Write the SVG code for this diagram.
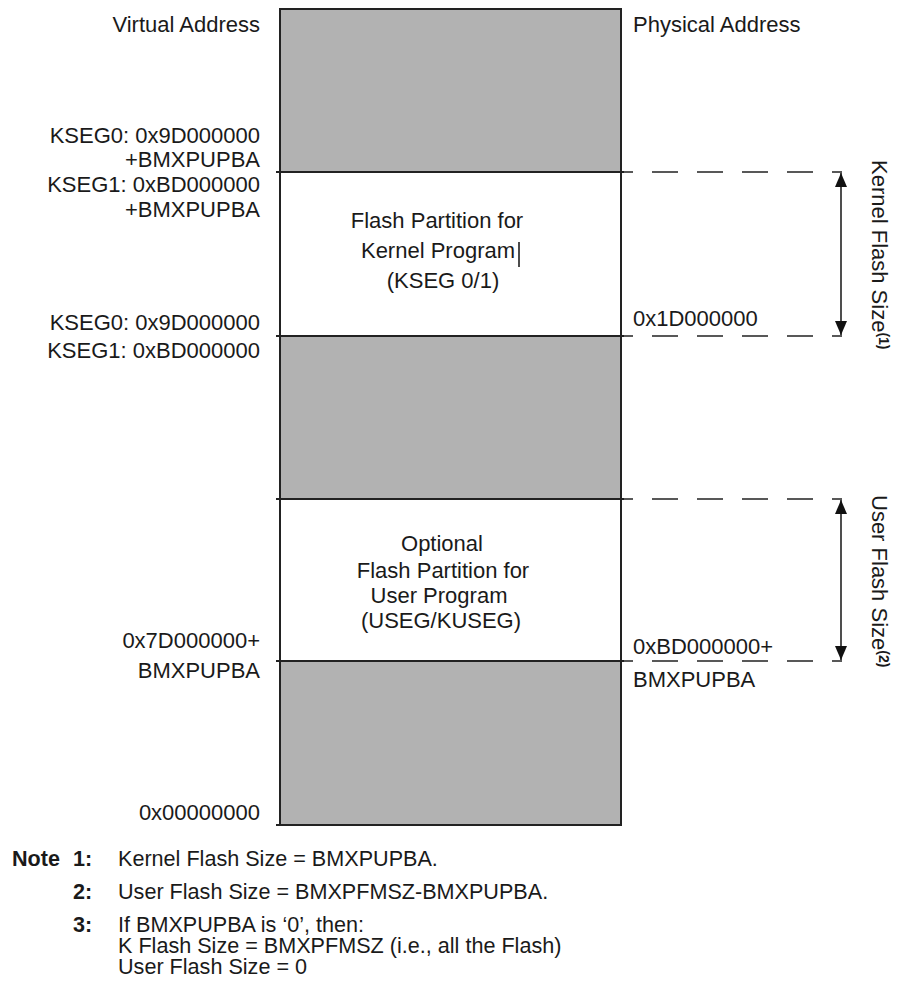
<svg xmlns="http://www.w3.org/2000/svg" width="899" height="996" viewBox="0 0 899 996">
<style>
text{font-family:"Liberation Sans",Arial,sans-serif;font-size:22px;fill:#1a1a1a}
.r{text-anchor:end}
.m{text-anchor:middle}
.b{font-weight:bold}
.n{font-size:21.6px}
.gray{fill:#b2b2b2;stroke:#222;stroke-width:2}
.white{fill:#fff;stroke:#222;stroke-width:2}
.div{stroke:#222;stroke-width:2;fill:none}
.dash{stroke:#222;stroke-width:1.6;fill:none;stroke-dasharray:26 19;stroke-dashoffset:14}
.arr{stroke:#222;stroke-width:1.6;fill:none;marker-start:url(#ah);marker-end:url(#ah)}
.sup{font-size:14px;font-weight:bold}
</style>
<defs>
<marker id="ah" viewBox="0 0 14 12" refX="14" refY="6" markerWidth="14" markerHeight="12" markerUnits="userSpaceOnUse" orient="auto-start-reverse">
<path d="M0,0 L14,6 L0,12 Z" fill="#111"/>
</marker>
</defs>
<rect width="899" height="996" fill="#fff"/>

<g id="memory-map">
<g id="seg-top"><rect class="gray" x="280" y="9" width="341" height="163"/></g>
<g id="seg-kernel"><rect class="white" x="280" y="172" width="341" height="164"/>
<text class="m" x="437" y="228">Flash Partition for</text>
<text class="m" x="438" y="258">Kernel Program</text>
<line x1="519" y1="242" x2="519" y2="267" stroke="#111" stroke-width="1.5"/>
<text class="m" x="443" y="288">(KSEG 0/1)</text>
</g>
<g id="seg-mid"><rect class="gray" x="280" y="336" width="341" height="163"/></g>
<g id="seg-user"><rect class="white" x="280" y="499" width="341" height="162"/>
<text class="m" x="442" y="551">Optional</text>
<text class="m" x="443" y="578">Flash Partition for</text>
<text class="m" x="439" y="603">User Program</text>
<text class="m" x="441" y="628">(USEG/KUSEG)</text>
</g>
<g id="seg-bottom"><rect class="gray" x="280" y="661" width="341" height="164"/></g>
<line class="div" x1="276" y1="172" x2="624" y2="172"/>
<line class="div" x1="276" y1="336" x2="624" y2="336"/>
<line class="div" x1="276" y1="499" x2="624" y2="499"/>
<line class="div" x1="276" y1="661" x2="624" y2="661"/>
<line class="div" x1="276" y1="825" x2="621" y2="825"/>
</g>

<g id="left-labels">
<text class="r" x="260" y="32">Virtual Address</text>
<text class="r" x="260" y="143">KSEG0: 0x9D000000</text>
<text class="r" x="260" y="167">+BMXPUPBA</text>
<text class="r" x="260" y="192">KSEG1: 0xBD000000</text>
<text class="r" x="260" y="217">+BMXPUPBA</text>
<text class="r" x="260" y="330">KSEG0: 0x9D000000</text>
<text class="r" x="260" y="358">KSEG1: 0xBD000000</text>
<text class="r" x="260" y="648">0x7D000000+</text>
<text class="r" x="260" y="678">BMXPUPBA</text>
<text class="r" x="260" y="820">0x00000000</text>
</g>

<g id="right-labels">
<text x="633" y="32">Physical Address</text>
<text x="633" y="326">0x1D000000</text>
<text x="633" y="654">0xBD000000+</text>
<text x="633" y="687">BMXPUPBA</text>
</g>

<g id="connectors">
<line class="dash" x1="621" y1="172" x2="842" y2="172"/>
<line class="dash" x1="621" y1="336" x2="842" y2="336"/>
<line class="dash" x1="621" y1="499" x2="842" y2="499"/>
<line class="dash" x1="621" y1="661" x2="842" y2="661"/>
<line class="arr" x1="841" y1="173" x2="841" y2="335"/>
<line class="arr" x1="841" y1="500" x2="841" y2="660"/>
</g>

<g id="size-labels">
<text transform="translate(872,160) rotate(90)">Kernel Flash Size<tspan class="sup" dy="-7">(1)</tspan></text>
<text transform="translate(872,495) rotate(90)">User Flash Size<tspan class="sup" dy="-7">(2)</tspan></text>
</g>

<g id="notes">
<text class="b n" x="12" y="866">Note</text>
<text class="b n" x="73" y="866">1:</text>
<text class="n" x="118" y="866">Kernel Flash Size = BMXPUPBA.</text>
<text class="b n" x="73" y="899">2:</text>
<text class="n" x="118" y="899">User Flash Size = BMXPFMSZ-BMXPUPBA.</text>
<text class="b n" x="73" y="932">3:</text>
<text class="n" x="118" y="932">If BMXPUPBA is ‘0’, then:</text>
<text class="n" x="118" y="953">K Flash Size = BMXPFMSZ (i.e., all the Flash)</text>
<text class="n" x="118" y="974">User Flash Size = 0</text>
</g>
</svg>
